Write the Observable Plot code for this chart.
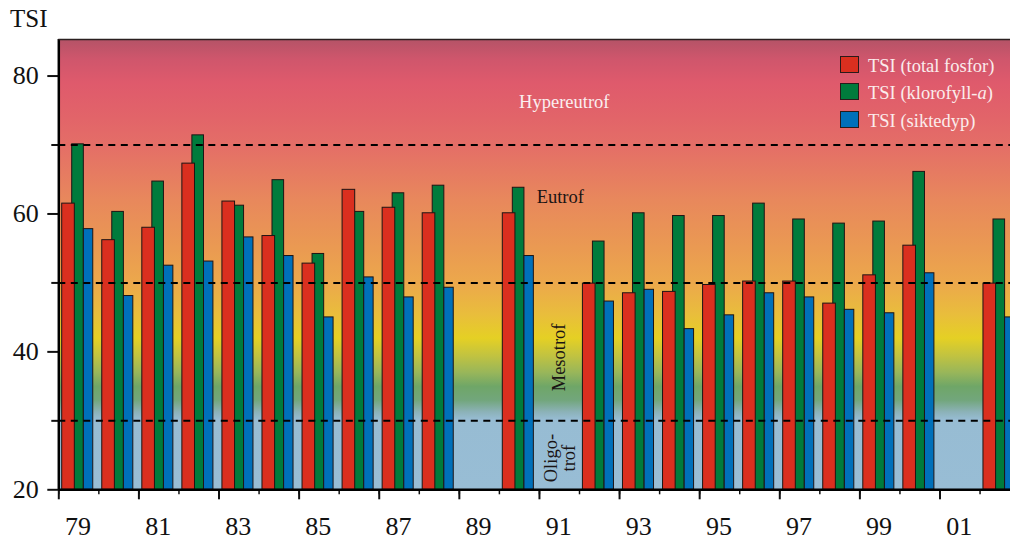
<!DOCTYPE html>
<html>
<head>
<meta charset="utf-8">
<script src="https://cdn.jsdelivr.net/npm/d3@7"></script>
<script src="https://cdn.jsdelivr.net/npm/@observablehq/plot@0.6"></script>
<style>
  html, body { margin: 0; padding: 0; background: #fff; }
  #wrap { position: relative; width: 1010px; height: 540px; overflow: hidden; font-family: "Liberation Serif", "DejaVu Serif", serif; }
  #ylab { position: absolute; left: 10px; top: 5.8px; font-size: 25px; line-height: 25px; color: #111; }
  .lg-sw { position: absolute; left: 840px; width: 17px; height: 15px; border: 1px solid #2a1a1a; }
  .lg-tx { position: absolute; left: 868px; font-size: 18.5px; line-height: 18.5px; color: #fbecec; white-space: nowrap; }
</style>
</head>
<body>
<div id="wrap"></div>
<script>
// ---- data ----
const years = [1979,1980,1981,1982,1983,1984,1985,1986,1987,1988,1989,1990,1991,1992,1993,1994,1995,1996,1997,1998,1999,2000,2001,2002];
const totalFosfor = [61.5,56.2,58.0,67.3,61.8,56.8,52.8,63.5,60.9,60.1,null,60.1,null,49.9,48.5,48.7,49.7,50.2,50.2,47.0,51.1,55.4,null,49.9];
const klorofyll   = [70.1,60.3,64.7,71.4,61.2,64.9,54.2,60.3,63.0,64.1,null,63.8,null,56.0,60.1,59.7,59.7,61.5,59.2,58.6,58.9,66.1,null,59.2];
const siktedyp    = [57.8,48.1,52.5,53.1,56.6,53.9,45.0,50.8,47.9,49.3,null,53.9,null,47.3,49.0,43.3,45.3,48.5,47.9,46.1,45.6,51.4,null,45.0];
const seriesNames = ["TSI (total fosfor)", "TSI (klorofyll-a)", "TSI (siktedyp)"];
const yTickLabels = [20, 40, 60, 80];
const zoneLimits = [30, 50, 70];
const xLabelYears = [1979,1981,1983,1985,1987,1989,1991,1993,1995,1997,1999,2001];
const zoneNames = ["Hypereutrof", "Eutrof", "Mesotrof", "Oligo-\ntrof"];

// ---- styles ----
const colors = {"TSI (total fosfor)": "#da2f1f", "TSI (klorofyll-a)": "#007b3c", "TSI (siktedyp)": "#0070ba"};
const offsets = {"TSI (total fosfor)": [0.085, 0.40], "TSI (klorofyll-a)": [0.335, 0.625], "TSI (siktedyp)": [0.625, 0.86]};
const yTop = 85.3, yBase = 20;
const bgStops = [
  [85.3, "#b55367"], [82.5, "#cf566c"], [79, "#df5a6c"], [74, "#e26469"], [70, "#e46e67"],
  [62, "#e8885c"], [55, "#ea9a52"], [50, "#eca84b"], [45.5, "#e9bd3c"], [42, "#e5d024"],
  [39.5, "#c2c340"], [37, "#98b65a"], [35, "#6fa667"], [33, "#72a67c"], [31.3, "#8cb2b8"],
  [30.2, "#97bcd3"], [20, "#98bdd5"]
];

const table = [];
const valuesBy = {"TSI (total fosfor)": totalFosfor, "TSI (klorofyll-a)": klorofyll, "TSI (siktedyp)": siktedyp};
for (const s of seriesNames) {
  years.forEach((yr, i) => {
    const v = valuesBy[s][i];
    if (v != null) table.push({year: yr, value: v, series: s});
  });
}
const bars = s => Plot.rect(table.filter(d => d.series === s), {
  x1: d => d.year + offsets[s][0], x2: d => d.year + offsets[s][1],
  y1: yBase, y2: "value", fill: colors[s], stroke: "#1e1414", strokeWidth: 1, clip: true
});

const labelPos = [
  {text: zoneNames[0], x: 1991.62, y: 75.4, fill: "#fbeef0", rotate: 0},
  {text: zoneNames[1], x: 1991.52, y: 61.65, fill: "#1a1414", rotate: 0},
  {text: zoneNames[2], x: 1991.49, y: 39.2, fill: "#1a1414", rotate: -90},
  {text: zoneNames[3], x: 1991.52, y: 24.6, fill: "#1a1414", rotate: -90}
];

const fmt = d => String(Math.round(d - 0.48) % 100).padStart(2, "0");

const chart = Plot.plot({
  width: 1010, height: 540,
  marginLeft: 58.3, marginRight: 0, marginTop: 39, marginBottom: 50.7,
  style: {fontFamily: "Liberation Serif, serif", fontSize: "26px", color: "#111", background: "transparent"},
  x: {type: "linear", domain: [1979, 2002.76]},
  y: {domain: [yBase, yTop]},
  marks: [
    Plot.frame({fill: "url(#tsiBg)", stroke: "none"}),
    bars("TSI (klorofyll-a)"),
    bars("TSI (total fosfor)"),
    bars("TSI (siktedyp)"),
    Plot.ruleY(zoneLimits, {stroke: "#000", strokeWidth: 2, strokeDasharray: "7,5.5"}),
    Plot.text(labelPos.filter(d => d.rotate === 0), {x: "x", y: "y", text: "text", fill: "fill", fontSize: 18.5, lineAnchor: "bottom", textAnchor: "middle", fontFamily: "Liberation Serif"}),
    Plot.text(labelPos.filter(d => d.rotate !== 0), {x: "x", y: "y", text: "text", fill: "fill", fontSize: 18.5, rotate: -90, lineAnchor: "middle", textAnchor: "middle", lineHeight: 0.95, fontFamily: "Liberation Serif"}),
    Plot.axisY({ticks: yTickLabels, tickSize: 11, tickPadding: 9, label: null, strokeWidth: 2, tickFormat: d => String(d)}),
    Plot.axisY({ticks: zoneLimits, tickSize: 7, label: null, strokeWidth: 2, tickFormat: () => ""}),
    Plot.axisX({ticks: years, tickSize: 5, label: null, strokeWidth: 1.5, tickFormat: () => ""}),
    Plot.axisX({ticks: xLabelYears, tickSize: 10, label: null, strokeWidth: 2, tickFormat: () => ""}),
    Plot.axisX({ticks: xLabelYears.map(y => y + 0.48), tickSize: 0, tickPadding: 27, label: null, tickFormat: fmt}),
    Plot.ruleX([1979], {stroke: "#000", strokeWidth: 2.5}),
    Plot.ruleY([yBase], {stroke: "#000", strokeWidth: 2.5}),
    Plot.ruleY([yTop], {stroke: "#2a2020", strokeWidth: 1.5})
  ]
});

// gradient background built from the value stops
const ns = "http://www.w3.org/2000/svg";
const defs = document.createElementNS(ns, "defs");
const grad = document.createElementNS(ns, "linearGradient");
grad.setAttribute("id", "tsiBg");
grad.setAttribute("x1", "0"); grad.setAttribute("x2", "0");
grad.setAttribute("y1", "0"); grad.setAttribute("y2", "1");
for (const [v, c] of bgStops) {
  const st = document.createElementNS(ns, "stop");
  st.setAttribute("offset", ((yTop - v) / (yTop - yBase)).toFixed(4));
  st.setAttribute("stop-color", c);
  grad.appendChild(st);
}
defs.appendChild(grad);
chart.insertBefore(defs, chart.firstChild);

const wrap = document.getElementById("wrap");
chart.style.position = "absolute";
chart.style.left = "0"; chart.style.top = "0";
wrap.appendChild(chart);

const ylab = document.createElement("div");
ylab.id = "ylab"; ylab.textContent = "TSI";
wrap.appendChild(ylab);

seriesNames.forEach((s, i) => {
  const top = 55.7 + i * 27.7;
  const sw = document.createElement("div");
  sw.className = "lg-sw"; sw.style.top = top + "px"; sw.style.background = colors[s];
  wrap.appendChild(sw);
  const tx = document.createElement("div");
  tx.className = "lg-tx"; tx.style.top = (top + 0.8) + "px";
  if (s.endsWith("-a)")) {
    tx.append(s.slice(0, -2));
    const it = document.createElement("i"); it.textContent = "a"; tx.append(it); tx.append(")");
  } else tx.textContent = s;
  wrap.appendChild(tx);
});
</script>
</body>
</html>
